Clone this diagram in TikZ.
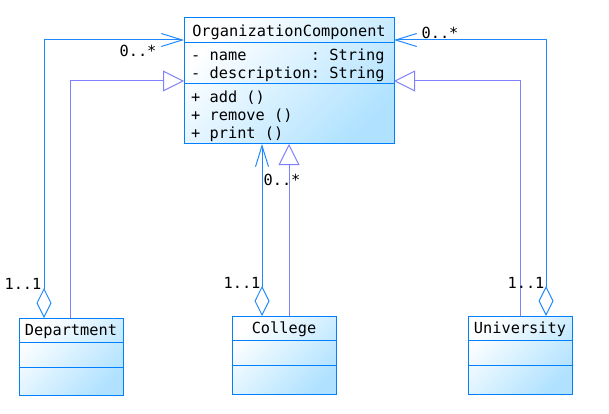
\documentclass[tikz,border=0pt]{standalone}
\usepackage{fontspec}
\usetikzlibrary{arrows.meta,calc}
\newfontfamily\umlfont{DejaVu Sans Mono}
\definecolor{clsline}{RGB}{0,128,255}
\definecolor{clsfill}{RGB}{176,226,255}
\definecolor{agglink}{RGB}{30,136,255}
\definecolor{inhlink}{RGB}{128,128,255}
\begin{document}
\begin{tikzpicture}[x=1pt,y=-1pt,
    cls/.style={draw=clsline, line width=1pt, top color=white, bottom color=clsfill, shading angle=45, inner sep=0pt, outer sep=0pt},
    sep/.style={draw=clsline, line width=1pt},
    txt/.style={font=\umlfont\fontsize{15.3}{17.8}\selectfont, inner sep=0pt},
    agg/.style={draw=agglink, line width=1pt, arrows={Straight Barb[length=21pt,width=13pt]-Diamond[open,length=30pt,width=15pt]}},
    inh/.style={draw=inhlink, line width=1pt, -{Triangle[open,length=21pt,width=21pt]}}]
    \useasboundingbox (0,0) rectangle (609,414);
    % 组合抽象类
    \node[cls, minimum width=210pt, minimum height=126pt] (oc) at (289,81) {};
    \draw[sep] ($(oc.north west)+(0,25)$) -- ($(oc.north east)+(0,25)$);
    \draw[sep] ($(oc.north west)+(0,66)$) -- ($(oc.north east)+(0,66)$);
    \node[txt] (oc-t) at ($(oc.north)+(0,14)$) {OrganizationComponent};
    \node[txt, anchor=west, align=left] (oc-a) at ($(oc.north west)+(7,47.5)$) {-~name~~~~~~~:~String\\-~description:~String};
    \node[txt, anchor=west, align=left] (oc-m) at ($(oc.north west)+(7,98.5)$) {+~add~()\\+~remove~()\\+~print~()};
    % 子类
    \node[cls, minimum width=104pt, minimum height=77pt] (dep) at (71,356.5) {};
    \node[cls, minimum width=104pt, minimum height=78pt] (col) at (284,355) {};
    \node[cls, minimum width=104pt, minimum height=78pt] (uni) at (520,355) {};
    \foreach \c/\t in {dep/Department, col/College, uni/University} {
        \draw[sep] ($(\c.north west)+(0,24.5)$) -- ($(\c.north east)+(0,24.5)$);
        \draw[sep] ($(\c.north west)+(0,49)$) -- ($(\c.north east)+(0,49)$);
        \node[txt] (\c-t) at ($(\c.north)+(0,13.5)$) {\t};
    }
    % 聚合
    \draw[agg] ($(oc.north west)+(0,22)$) -| ($(dep.north west)+(25,0)$);
    \coordinate (c-agg) at ($(col.north west)+(30,0)$);
    \draw[agg] (c-agg |- oc.south) -- (c-agg);
    \draw[agg] ($(oc.north east)+(0,22)$) -| ($(uni.north west)+(78,0)$);
    % 继承
    \draw[inh] ($(dep.north west)+(51,0)$) |- ($(oc.north west)+(0,63)$);
    \coordinate (c-inh) at ($(col.north west)+(57,0)$);
    \draw[inh] (c-inh) -- (c-inh |- oc.south);
    \draw[inh] (uni.north) |- ($(oc.north east)+(0,63)$);
    % 多重性
    \node[txt] (m-dep-0) at (138,51) {0..*};
    \node[txt] (m-dep-1) at (23,284) {1..1};
    \node[txt] (m-col-0) at (282,180) {0..*};
    \node[txt] (m-col-1) at (242,283) {1..1};
    \node[txt] (m-uni-0) at (440,33) {0..*};
    \node[txt] (m-uni-1) at (526,283) {1..1};
\end{tikzpicture}
\end{document}
